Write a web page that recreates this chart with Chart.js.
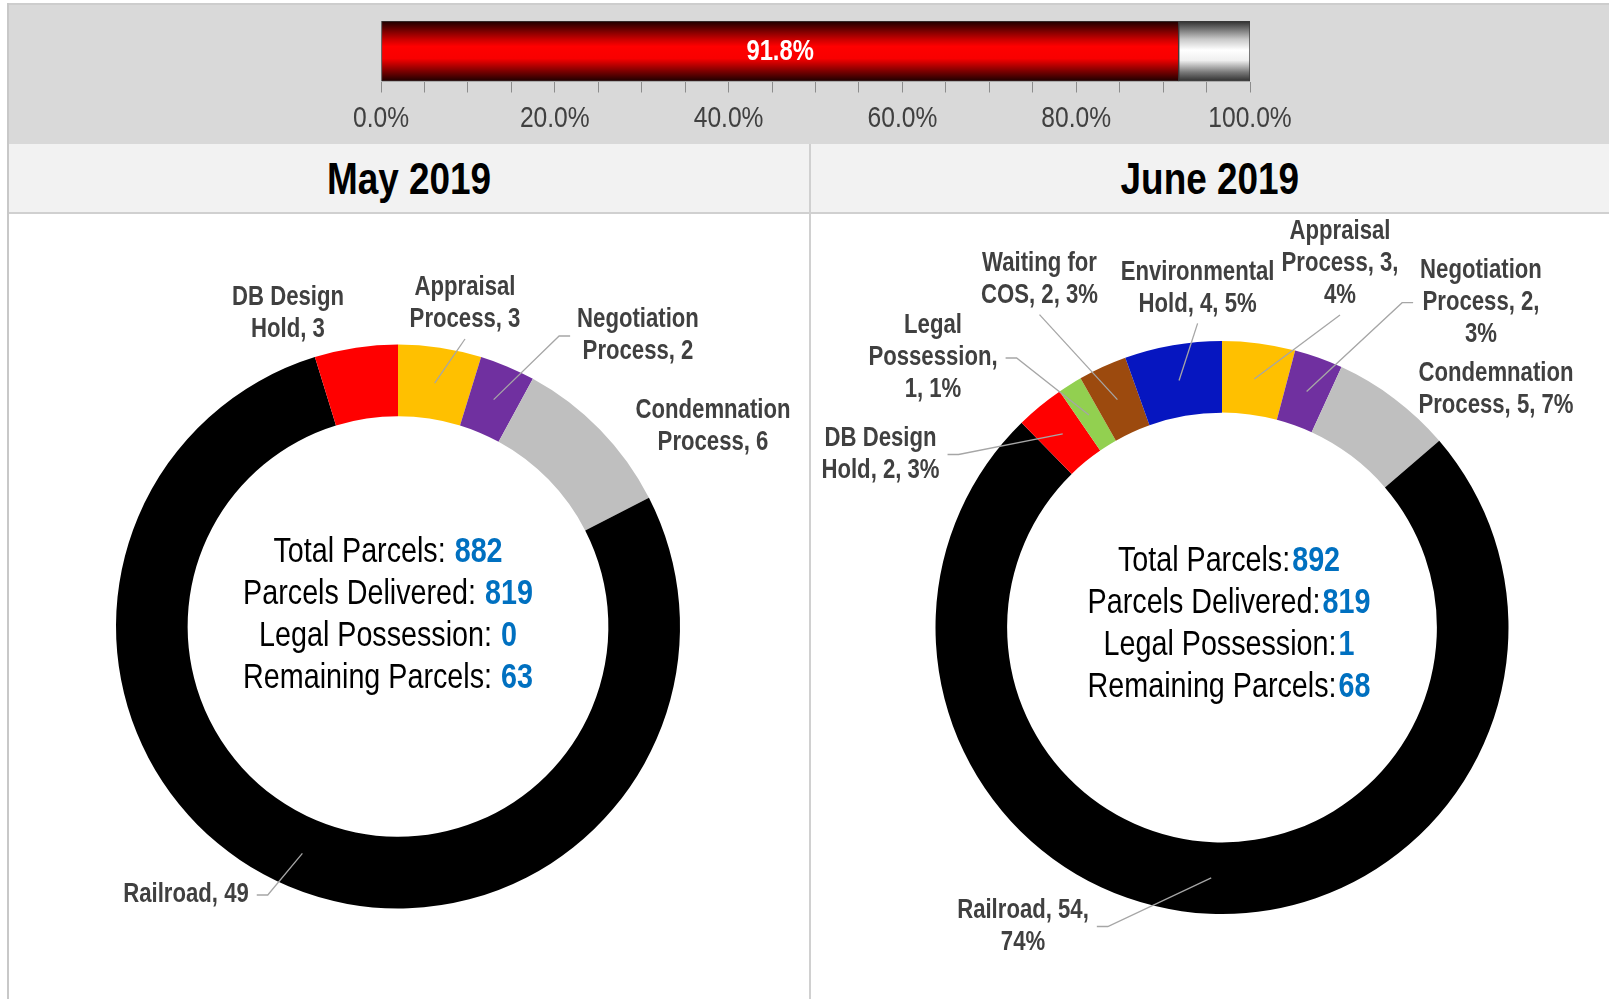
<!DOCTYPE html>
<html>
<head>
<meta charset="utf-8">
<script src="https://cdn.jsdelivr.net/npm/chart.js"></script>
<style>
  html, body { margin: 0; padding: 0; background: #fff; }
  #page { position: relative; width: 1609px; height: 999px; overflow: hidden;
          font-family: 'Liberation Sans', Arial, sans-serif; }
  .abs { position: absolute; }
  #frameLeft { left: 7px; top: 3px; width: 2px; height: 996px; background: #c8c8c8; }
  #topBand { left: 9px; top: 3px; right: 0; height: 139px; background: #d9d9d9;
             border-top: 2px solid #cdcdcd; border-bottom: 2px solid #c6c6c6; }
  #headBand { left: 9px; top: 144px; right: 0; height: 68px; background: #f2f2f2;
              border-bottom: 2px solid #d0d0d0; }
  #divider { left: 809px; top: 144px; width: 2px; height: 855px; background: #d0d0d0; }
  .title { top: 145px; height: 68px; line-height: 68px; text-align: center;
           font-weight: bold; font-size: 45px; color: #000; }
  .title span { display: inline-block; transform: scaleX(0.82); }
  canvas { position: absolute; }
</style>
</head>
<body>
<div id="page">
  <div id="topBand" class="abs"></div>
  <div id="headBand" class="abs"></div>
  <div id="frameLeft" class="abs"></div>
  <div id="divider" class="abs"></div>
  <div class="abs title" style="left:9px;width:800px;"><span>May 2019</span></div>
  <div class="abs title" style="left:811px;width:798px;"><span>June 2019</span></div>
  <canvas id="progressChart" width="1030" height="143" style="left:300px;top:0px;"></canvas>
  <canvas id="mayChart" width="801" height="785" style="left:8px;top:214px;"></canvas>
  <canvas id="juneChart" width="798" height="785" style="left:811px;top:214px;"></canvas>
</div>
<script>
// 데이터
const progressLabel = ['Parcels Delivered'];
const progressDone = [91.8];
const progressLeft = [8.2];

const mayCategories = ['Appraisal Process', 'Negotiation Process', 'Condemnation Process', 'Railroad', 'DB Design Hold'];
const mayValues = [3, 2, 6, 49, 3];

const juneCategories = ['Appraisal Process', 'Negotiation Process', 'Condemnation Process', 'Railroad',
  'DB Design Hold', 'Legal Possession', 'Waiting for COS', 'Environmental Hold'];
const juneValues = [3, 2, 5, 54, 2, 1, 2, 4];

const summaryLabels = ['Total Parcels:', 'Parcels Delivered:', 'Legal Possession:', 'Remaining Parcels:'];
const maySummary = [882, 819, 0, 63];
const juneSummary = [892, 819, 1, 68];

// 색상
const colorOf = {
  'Appraisal Process': '#ffc000',
  'Negotiation Process': '#7030a0',
  'Condemnation Process': '#bfbfbf',
  'Railroad': '#000000',
  'DB Design Hold': '#ff0000',
  'Legal Possession': '#92d050',
  'Waiting for COS': '#9c4a0e',
  'Environmental Hold': '#0616c0'
};

// Arial Narrow 가 없어서 Liberation Sans 를 가로로 줄여서 씀
const FONT = "'Liberation Sans', Arial, sans-serif";
const NARROW = 0.82;
Chart.defaults.font.family = FONT;

function narrowWidth(ctx, text) {
  return ctx.measureText(text).width * NARROW;
}

function narrowText(ctx, text, x, y, align) {
  const w = narrowWidth(ctx, text);
  let left = x;
  if (align === 'center') left = x - w / 2;
  else if (align === 'right') left = x - w;
  ctx.save();
  ctx.translate(left, y);
  ctx.scale(NARROW, 1);
  ctx.textAlign = 'left';
  ctx.fillText(text, 0, 0);
  ctx.restore();
  return w;
}

// 라벨 위치 (페이지 좌표), words = 줄당 단어 수
const mayLabelLayout = [
  {x: 465, y: 304, words: [1, 2], attach: 'bottom'},
  {x: 638, y: 336, words: [1, 2], attach: 'left'},
  {x: 713, y: 427, words: [1, 2], attach: null},
  {x: 186, y: 895, words: [2], attach: 'right'},
  {x: 288, y: 313.5, words: [2, 2], attach: null}
];
const juneLabelLayout = [
  {x: 1340, y: 264, words: [1, 2, 1], attach: 'bottom'},
  {x: 1481, y: 302.7, words: [1, 2, 1], attach: 'left'},
  {x: 1496, y: 390, words: [1, 3], attach: null},
  {x: 1023, y: 926.5, words: [2, 1], attach: 'right'},
  {x: 880.5, y: 454.5, words: [2, 3], attach: 'right'},
  {x: 933, y: 358, words: [1, 1, 2], attach: 'right'},
  {x: 1039.5, y: 279.6, words: [2, 3], attach: 'bottom'},
  {x: 1197.6, y: 288.4, words: [1, 3], attach: 'bottom'}
];

function vGradient(context, stops) {
  const chart = context.chart;
  const a = chart.chartArea;
  if (!a) return stops[Math.floor(stops.length / 2)][1];
  const g = chart.ctx.createLinearGradient(0, a.top, 0, a.bottom);
  stops.forEach(s => g.addColorStop(s[0], s[1]));
  return g;
}

const redStops = [[0, '#1a0000'], [0.3, '#c80000'], [0.42, '#ff0000'], [0.62, '#f80000'], [0.85, '#700000'], [1, '#1a0000']];
const greyStops = [[0, '#2e2e2e'], [0.3, '#c8c8c8'], [0.48, '#ffffff'], [0.65, '#f0f0f0'], [0.85, '#777777'], [1, '#2e2e2e']];

// 진행률 막대 값 + 눈금 글자
const barTextPlugin = {
  id: 'barText',
  afterDraw(chart) {
    const ctx = chart.ctx;
    const bar = chart.getDatasetMeta(0).data[0];
    const xs = chart.scales.x;
    ctx.save();
    ctx.textBaseline = 'middle';
    ctx.font = `bold 29px ${FONT}`;
    ctx.fillStyle = '#ffffff';
    narrowText(ctx, progressDone[0].toFixed(1) + '%', (bar.x + bar.base) / 2, bar.y + 1, 'center');
    ctx.font = `30px ${FONT}`;
    ctx.fillStyle = '#404040';
    xs.ticks.forEach(t => {
      if (t.value % 20 !== 0) return;
      narrowText(ctx, t.value.toFixed(1) + '%', xs.getPixelForValue(t.value), xs.top + 11 + 8 + 18, 'center');
    });
    ctx.restore();
  }
};

new Chart(document.querySelector('#progressChart'), {
  type: 'bar',
  data: {
    labels: progressLabel,
    datasets: [
      {data: progressDone, backgroundColor: c => vGradient(c, redStops), borderColor: '#3a3a3a', borderWidth: 1, borderSkipped: false},
      {data: progressLeft, backgroundColor: c => vGradient(c, greyStops), borderColor: '#3a3a3a', borderWidth: 1, borderSkipped: false}
    ]
  },
  options: {
    responsive: false,
    animation: false,
    indexAxis: 'y',
    layout: {padding: {left: 81, right: 80, top: 21, bottom: 1}},
    datasets: {bar: {barPercentage: 1, categoryPercentage: 1}},
    scales: {
      x: {
        stacked: true, min: 0, max: 100,
        grid: {drawOnChartArea: false, drawTicks: true, tickLength: 11, color: '#8c8c8c'},
        border: {display: false},
        ticks: {
          stepSize: 5, autoSkip: false, maxRotation: 0, padding: 8,
          color: 'rgba(0,0,0,0)', font: {size: 30},
          callback: v => (v % 20 === 0 ? v.toFixed(1) + '%' : '')
        }
      },
      y: {stacked: true, display: false}
    },
    plugins: {legend: {display: false}, tooltip: {enabled: false}}
  },
  plugins: [barTextPlugin]
});

// 도넛 라벨 + 지시선
const calloutPlugin = {
  id: 'callouts',
  afterDatasetsDraw(chart, args, o) {
    const ctx = chart.ctx;
    const arcs = chart.getDatasetMeta(0).data;
    const values = chart.data.datasets[0].data;
    const total = values.reduce((s, v) => s + v, 0);
    const lh = 32;
    ctx.save();
    ctx.font = `bold 27px ${FONT}`;
    ctx.textBaseline = 'middle';
    o.layout.forEach((lab, i) => {
      let text = chart.data.labels[i] + ', ' + values[i];
      if (o.showPct) text += ', ' + Math.round(values[i] / total * 100) + '%';
      const words = text.split(' ');
      const lines = [];
      let k = 0;
      lab.words.forEach(n => { lines.push(words.slice(k, k + n).join(' ')); k += n; });
      const cx = lab.x - o.origin[0];
      const cy = lab.y - o.origin[1];
      const top = cy - (lines.length - 1) * lh / 2;
      const maxW = Math.max(...lines.map(l => narrowWidth(ctx, l)));

      if (lab.attach) {
        const p = arcs[i].getCenterPoint();
        ctx.strokeStyle = '#a6a6a6';
        ctx.lineWidth = 1.3;
        ctx.beginPath();
        if (lab.attach === 'bottom') {
          ctx.moveTo(cx, top + (lines.length - 1) * lh + 19);
        } else if (lab.attach === 'right') {
          const sx = cx + maxW / 2 + 8;
          ctx.moveTo(sx, cy);
          ctx.lineTo(sx + 11, cy);
        } else {
          const sx = cx - maxW / 2 - 7;
          ctx.moveTo(sx, cy);
          ctx.lineTo(sx - 11, cy);
        }
        ctx.lineTo(p.x, p.y);
        ctx.stroke();
      }

      ctx.fillStyle = '#404040';
      lines.forEach((l, j) => narrowText(ctx, l, cx, top + j * lh, 'center'));
    });
    ctx.restore();
  }
};

// 가운데 요약 텍스트
const centreTextPlugin = {
  id: 'centreText',
  afterDraw(chart, args, o) {
    const arc = chart.getDatasetMeta(0).data[0];
    const ctx = chart.ctx;
    const cx = arc.x + o.dx;
    ctx.save();
    ctx.textBaseline = 'middle';
    summaryLabels.forEach((name, i) => {
      const y = arc.y + o.dy + (i - (summaryLabels.length - 1) / 2) * 42;
      const val = String(o.values[i]);
      ctx.font = `35px ${FONT}`;
      const w1 = narrowWidth(ctx, name);
      ctx.font = `bold 35px ${FONT}`;
      const w2 = narrowWidth(ctx, val);
      const x0 = cx - (w1 + o.gap + w2) / 2;
      ctx.font = `35px ${FONT}`;
      ctx.fillStyle = '#000000';
      narrowText(ctx, name, x0, y, 'left');
      ctx.font = `bold 35px ${FONT}`;
      ctx.fillStyle = '#0070c0';
      narrowText(ctx, val, x0 + w1 + o.gap, y, 'left');
    });
    ctx.restore();
  }
};

function makeDoughnut(el, cats, vals, opts) {
  return new Chart(el, {
    type: 'doughnut',
    data: {
      labels: cats,
      datasets: [{data: vals, backgroundColor: cats.map(c => colorOf[c]), borderWidth: 0, hoverOffset: 0}]
    },
    options: {
      responsive: false,
      animation: false,
      cutout: opts.cutout,
      layout: {padding: opts.padding},
      plugins: {
        legend: {display: false},
        tooltip: {enabled: false},
        callouts: {layout: opts.labels, origin: opts.origin, showPct: opts.showPct},
        centreText: {values: opts.summary, dx: opts.dx, dy: opts.dy, gap: opts.gap}
      }
    },
    plugins: [calloutPlugin, centreTextPlugin]
  });
}

makeDoughnut(document.querySelector('#mayChart'), mayCategories, mayValues, {
  cutout: '74.6%',
  padding: {left: 108, right: 129, top: 130, bottom: 90},
  labels: mayLabelLayout, origin: [8, 214], showPct: false,
  summary: maySummary, dx: -10, dy: -11, gap: 9
});

makeDoughnut(document.querySelector('#juneChart'), juneCategories, juneValues, {
  cutout: '75%',
  padding: {left: 124, right: 100, top: 127, bottom: 85},
  labels: juneLabelLayout, origin: [811, 214], showPct: true,
  summary: juneSummary, dx: 7, dy: -3, gap: 2
});
</script>
</body>
</html>
